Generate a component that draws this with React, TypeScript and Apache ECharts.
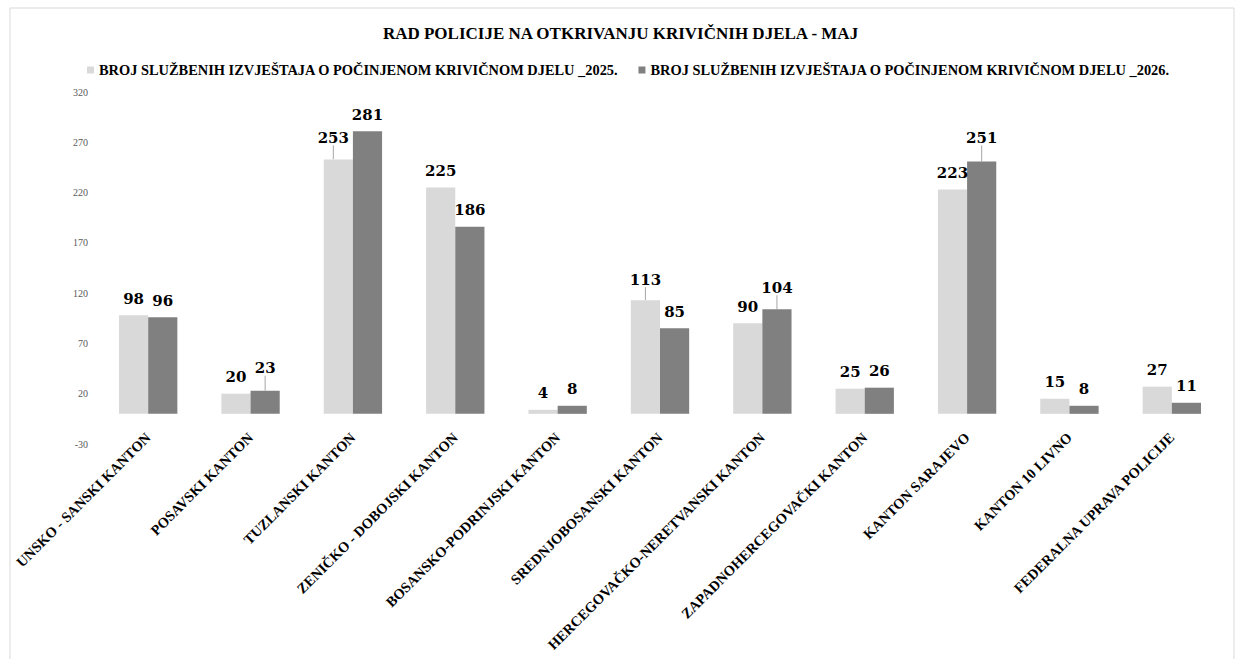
import React, { useEffect, useRef } from "react";
import * as echarts from "echarts";

const title = "RAD POLICIJE NA OTKRIVANJU KRIVIČNIH DJELA - MAJ";
const categories = [
  "UNSKO - SANSKI KANTON",
  "POSAVSKI KANTON",
  "TUZLANSKI KANTON",
  "ZENIČKO - DOBOJSKI KANTON",
  "BOSANSKO-PODRINJSKI KANTON",
  "SREDNJOBOSANSKI KANTON",
  "HERCEGOVAČKO-NERETVANSKI KANTON",
  "ZAPADNOHERCEGOVAČKI KANTON",
  "KANTON SARAJEVO",
  "KANTON 10 LIVNO",
  "FEDERALNA UPRAVA POLICIJE",
];
const seriesNames = [
  "BROJ SLUŽBENIH IZVJEŠTAJA O POČINJENOM KRIVIČNOM DJELU _2025.",
  "BROJ SLUŽBENIH IZVJEŠTAJA O POČINJENOM KRIVIČNOM DJELU _2026.",
];
const values2025 = [98, 20, 253, 225, 4, 113, 90, 25, 223, 15, 27];
const values2026 = [96, 23, 281, 186, 8, 85, 104, 26, 251, 8, 11];
const yMin = -30;
const yMax = 320;
const yStep = 50;

// label nudges with leader lines: key "series-index"
const nudges: Record<string, { dx: number; dy: number }> = {
  "0-2": { dx: -5, dy: -5 },
  "1-1": { dx: 0, dy: -6 },
  "0-5": { dx: 0, dy: -4 },
  "1-6": { dx: 0, dy: -5 },
  "1-8": { dx: 0, dy: -7 },
};

const SERIF = "'Liberation Serif', 'Times New Roman', serif";

export default function App() {
  const ref = useRef<HTMLDivElement>(null);
  useEffect(() => {
    document.body.style.margin = "0";
    const chart = echarts.init(ref.current!, undefined, { renderer: "svg" });
    const colors = ["#d9d9d9", "#808080"];
    const mkSeries = (name: string, vals: number[], si: number) => ({
      name,
      type: "bar",
      data: vals.map((v, i) =>
        nudges[`${si}-${i}`]
          ? { value: v, labelLine: { show: true, lineStyle: { color: "#a6a6a6", width: 1 } } }
          : { value: v }
      ),
      barGap: "0%",
      barCategoryGap: "43%",
      itemStyle: { color: colors[si] },
      label: {
        show: true,
        position: "top",
        distance: 9,
        color: "#000",
        fontFamily: "'DejaVu Serif', serif",
        fontWeight: "bold",
        fontSize: 15,
      },
      labelLine: { show: false },
      labelLayout: (p: any) => {
        const n = nudges[`${si}-${p.dataIndex}`];
        return n ? { dx: n.dx, dy: n.dy } : {};
      },
    });
    chart.setOption({
      animation: false,
      backgroundColor: "#fff",
      graphic: [
        {
          type: "rect",
          shape: { x: 10, y: 8, width: 1224, height: 700 },
          style: { fill: "none", stroke: "#d9d9d9", lineWidth: 1 },
          silent: true,
        },
      ],
      title: {
        text: title,
        left: "center",
        top: 20,
        textStyle: {
          fontFamily: SERIF,
          fontWeight: "bold",
          fontSize: 17,
          color: "#000",
        },
      },
      legend: {
        top: 58,
        left: 82,
        itemWidth: 7,
        itemHeight: 7,
        itemGap: 20,
        icon: "rect",
        textStyle: {
          fontFamily: SERIF,
          fontWeight: "bold",
          fontSize: 14.4,
          color: "#000",
        },
        data: seriesNames,
      },
      grid: { left: 97, right: 18, top: 92, bottom: 215, containLabel: false },
      xAxis: {
        type: "category",
        data: categories,
        axisLine: { show: false },
        axisTick: { show: false },
        axisLabel: {
          interval: 0,
          rotate: 45,
          margin: -9,
          fontFamily: SERIF,
          fontWeight: "bold",
          fontSize: 14.4,
          color: "#000",
        },
      },
      yAxis: {
        type: "value",
        min: yMin,
        max: yMax,
        interval: yStep,
        axisLine: { show: false },
        axisTick: { show: false },
        splitLine: { show: false },
        axisLabel: {
          margin: 9,
          fontFamily: SERIF,
          fontSize: 10,
          color: "#595959",
        },
      },
      series: [mkSeries(seriesNames[0], values2025, 0), mkSeries(seriesNames[1], values2026, 1)],
    });
    return () => chart.dispose();
  }, []);
  return <div ref={ref} style={{ width: 1241, height: 659 }} />;
}
